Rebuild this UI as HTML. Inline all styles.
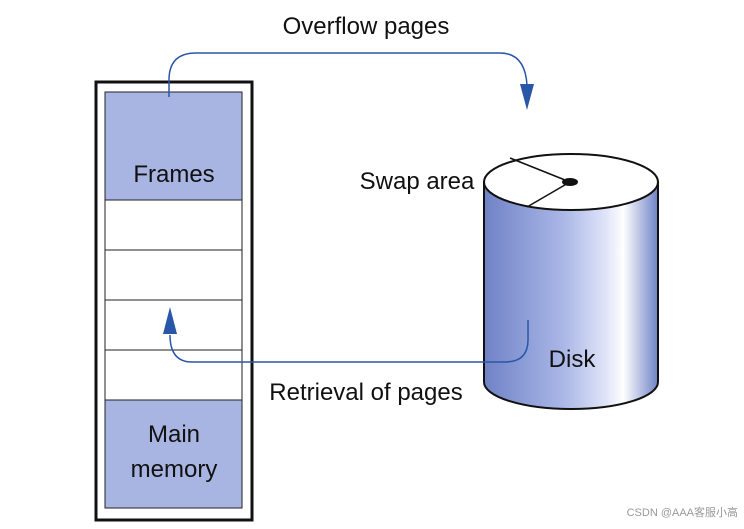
<!DOCTYPE html>
<html><head><style>
body{margin:0;background:#fff;}
text{font-family:"Liberation Sans",sans-serif;fill:#111;}
</style></head><body>
<svg width="744" height="524" viewBox="0 0 744 524" xmlns="http://www.w3.org/2000/svg">
<defs>
<linearGradient id="g" x1="0" x2="1" y1="0" y2="0">
<stop offset="0" stop-color="#6f82c6"/>
<stop offset="0.45" stop-color="#a9b6e6"/>
<stop offset="0.7" stop-color="#dfe4f8"/>
<stop offset="0.8" stop-color="#ffffff"/>
<stop offset="1" stop-color="#6f82c6"/>
</linearGradient>
</defs>
<rect x="96" y="82" width="156" height="438" fill="#fff" stroke="#111" stroke-width="3"/>
<rect x="105" y="92" width="137" height="416" fill="#fff" stroke="#222" stroke-width="1"/>
<rect x="105" y="92" width="137" height="108" fill="#a8b4e2" stroke="#222" stroke-width="1"/>
<rect x="105" y="400" width="137" height="108" fill="#a8b4e2" stroke="#222" stroke-width="1"/>
<line x1="105" y1="250" x2="242" y2="250" stroke="#222"/>
<line x1="105" y1="300" x2="242" y2="300" stroke="#222"/>
<line x1="105" y1="350" x2="242" y2="350" stroke="#222"/>
<text x="174" y="182" font-size="24" text-anchor="middle">Frames</text>
<text x="174" y="442" font-size="24" text-anchor="middle">Main</text>
<text x="174" y="477" font-size="24" text-anchor="middle">memory</text>
<path d="M484 182 L484 382 A87 27 0 0 0 658 382 L658 182 Z" fill="url(#g)" stroke="#111" stroke-width="2"/>
<ellipse cx="571" cy="182" rx="87" ry="28" fill="#fff" stroke="#111" stroke-width="2"/>
<line x1="510" y1="158" x2="570" y2="182" stroke="#111" stroke-width="1.5"/>
<line x1="527" y1="207" x2="570" y2="182" stroke="#111" stroke-width="1.5"/>
<ellipse cx="570" cy="182" rx="8" ry="4" fill="#111"/>
<text x="417" y="189" font-size="24" text-anchor="middle">Swap area</text>
<text x="572" y="367" font-size="24" text-anchor="middle">Disk</text>
<text x="366" y="34" font-size="24" text-anchor="middle">Overflow pages</text>
<text x="366" y="400" font-size="24" text-anchor="middle">Retrieval of pages</text>
<path d="M169 97 L169 80 Q169 53 196 53 L500 53 Q525 53 527 85" fill="none" stroke="#2a56a8" stroke-width="1.5"/>
<polygon points="520,84 534,84 527,110" fill="#2a56a8"/>
<path d="M528 320 L528 340 Q528 362 505 362 L192 362 Q170 362 170 335" fill="none" stroke="#2a56a8" stroke-width="1.5"/>
<polygon points="163,334 177,334 170,307" fill="#2a56a8"/>
<text x="738" y="516" font-size="11" text-anchor="end" style="fill:#999;font-family:'Liberation Sans','Noto Sans CJK SC',sans-serif">CSDN @AAA客服小高</text>
</svg>
</body></html>
